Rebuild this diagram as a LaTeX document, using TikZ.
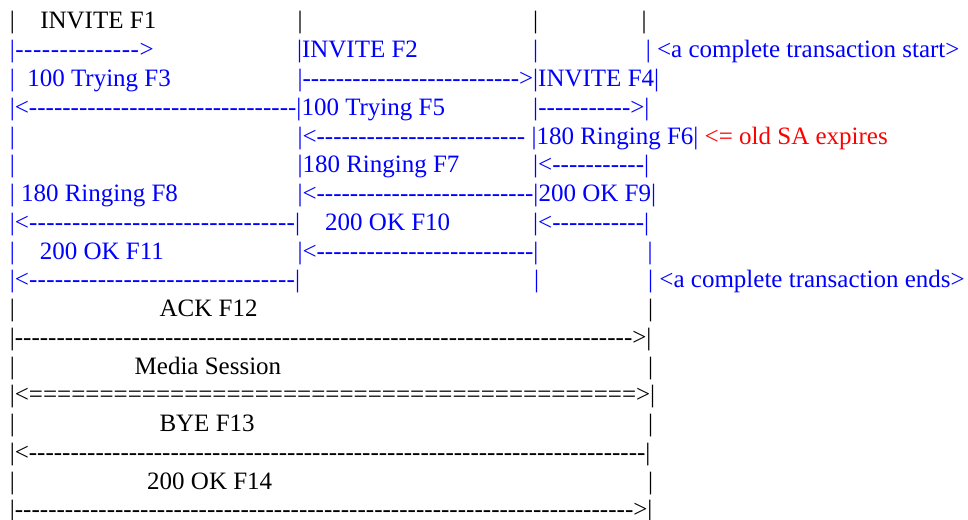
\documentclass[tikz,border=0pt]{standalone}
\usepackage{fontspec}
\setmainfont{Liberation Serif}
\newcommand{\dl}[4]{\hbox to #1pt{#2\xleaders\hbox{#3}\hfill #4}}
\tikzset{
  txt/.style={anchor=base west, inner sep=0pt, outer sep=0pt, font=\fontsize{25}{28.75}\selectfont},
  blk/.style={txt, text=black},
  blu/.style={txt, text=blue}
}
\begin{document}
\begin{tikzpicture}[x=1pt,y=-1pt]
\useasboundingbox[fill=white] (0,0) rectangle (968,519);
% row 1
\node[blk] (r1a) at (9.8,29) {|};
\node[blk] (r1b) at (40.3,29) {INVITE F1};
\node[blk] (r1c) at (297.5,29) {|};
\node[blk] (r1d) at (533.2,29) {|};
\node[blk] (r1e) at (641.5,29) {|};
% row 2
\node[blu] (r2a) at (9.8,57.75) {\dl{143.9}{|}{-}{>}};
\node[blu] (r2b) at (297,57.75) {|INVITE F2};
\node[blu] (r2c) at (533.2,57.75) {|};
\node[blu] (r2d) at (645.8,57.75) {|\ <a complete transaction start>};
% row 3
\node[blu] (r3a) at (9.8,86.5) {|};
\node[blu] (r3b) at (27.3,86.5) {100 Trying F3};
\node[blu] (r3c) at (297.5,86.5) {\dl{235.7}{|}{-}{>}};
\node[blu] (r3d) at (533.2,86.5) {|INVITE F4|};
% row 4
\node[blu] (r4a) at (9.8,115.25) {\dl{291.7}{|<}{-}{|}};
\node[blu] (r4b) at (301.5,115.25) {100 Trying F5};
\node[blu] (r4c) at (533.2,115.25) {\dl{116.3}{|}{-}{>|}};
% row 5
\node[blu] (r5a) at (9.8,144) {|};
\node[blu] (r5b) at (297.5,144) {\dl{227.7}{|<}{-}{}};
\node[blu] (r5c) at (531.5,144) {|180 Ringing F6|\ \textcolor{red}{<= old SA expires}};
% row 6
\node[blu] (r6a) at (9.8,172.75) {|};
\node[blu] (r6b) at (297.5,172.75) {|180 Ringing F7};
\node[blu] (r6c) at (533.2,172.75) {\dl{116}{|<}{-}{|}};
% row 7
\node[blu] (r7a) at (9.8,201.5) {|};
\node[blu] (r7b) at (21,201.5) {180 Ringing F8};
\node[blu] (r7c) at (297.5,201.5) {\dl{241}{|<}{-}{|}};
\node[blu] (r7d) at (538.5,201.5) {200 OK F9|};
% row 8
\node[blu] (r8a) at (9.8,230.25) {\dl{290.4}{|<}{-}{|}};
\node[blu] (r8b) at (325.2,230.25) {200 OK F10};
\node[blu] (r8c) at (533.2,230.25) {\dl{116}{|<}{-}{|}};
% row 9
\node[blu] (r9a) at (9.8,259) {|};
\node[blu] (r9b) at (39.8,259) {200 OK F11};
\node[blu] (r9c) at (297.5,259) {\dl{241}{|<}{-}{|}};
\node[blu] (r9d) at (647.5,259) {|};
% row 10
\node[blu] (r10a) at (9.8,287.75) {\dl{290.4}{|<}{-}{|}};
\node[blu] (r10b) at (534.2,287.75) {|};
\node[blu] (r10c) at (648.2,287.75) {|\ <a complete transaction ends>};
% row 11
\node[blk] (r11a) at (9.8,316.5) {|};
\node[blk] (r11b) at (159.6,316.5) {ACK F12};
\node[blk] (r11c) at (648.2,316.5) {|};
% row 12
\node[blk] (r12a) at (9.8,345.25) {\dl{641.7}{|}{-}{>|}};
% row 13
\node[blk] (r13a) at (9.8,374) {|};
\node[blk] (r13b) at (134.7,374) {Media Session};
\node[blk] (r13c) at (648.2,374) {|};
% row 14
\node[blk] (r14a) at (9.8,402.75) {\dl{645.4}{|<}{=}{>|}};
% row 15
\node[blk] (r15a) at (9.8,431.5) {|};
\node[blk] (r15b) at (159.5,431.5) {BYE F13};
\node[blk] (r15c) at (648.2,431.5) {|};
% row 16
\node[blk] (r16a) at (9.8,460.25) {\dl{640.7}{|<}{-}{|}};
% row 17
\node[blk] (r17a) at (9.8,489) {|};
\node[blk] (r17b) at (147.2,489) {200 OK F14};
\node[blk] (r17c) at (648.2,489) {|};
% row 18
\node[blk] (r18a) at (9.8,517.75) {\dl{642.7}{|}{-}{>|}};
\end{tikzpicture}
\end{document}
